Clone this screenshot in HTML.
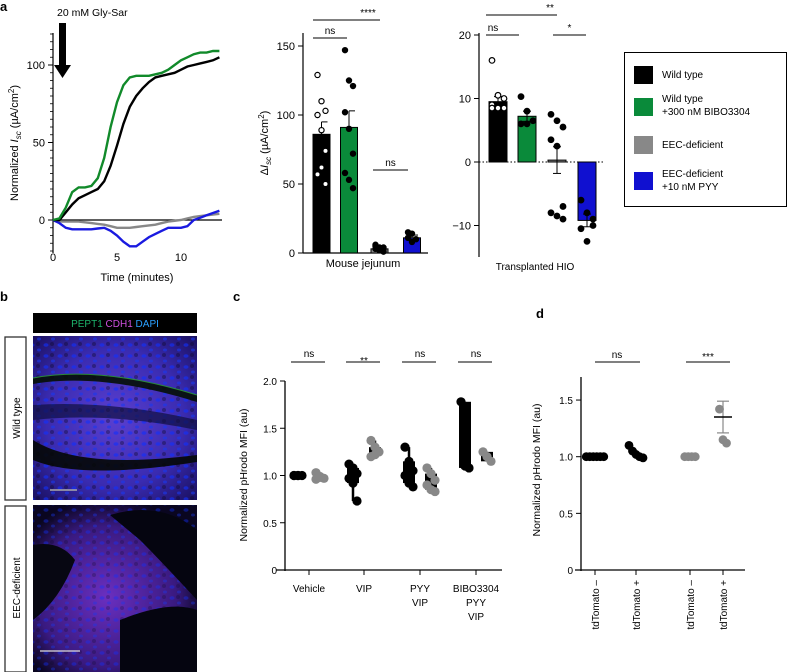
<!DOCTYPE html>
<html><head><meta charset="utf-8"><style>
body{margin:0;background:#fff;}
svg{display:block;font-family:"Liberation Sans",sans-serif;}
</style></head><body>
<svg id="fig" width="787" height="672" viewBox="0 0 787 672">
<defs>
<radialGradient id="wt" cx="50%" cy="50%" r="70%"><stop offset="0" stop-color="#5a3fd0"/><stop offset="0.6" stop-color="#3a2bb0"/><stop offset="1" stop-color="#1a1060"/></radialGradient>
<radialGradient id="ee" cx="45%" cy="55%" r="60%"><stop offset="0" stop-color="#6a2fc0"/><stop offset="0.7" stop-color="#3a1a80"/><stop offset="1" stop-color="#0a0620"/></radialGradient>
<pattern id="nuc" width="14" height="11" patternUnits="userSpaceOnUse"><ellipse cx="4" cy="4" rx="2.5" ry="1.8" fill="#1030ff"/><ellipse cx="11" cy="9" rx="2" ry="1.5" fill="#1838f0"/><circle cx="10" cy="3" r="2" fill="#0a0520" opacity="0.6"/></pattern>
</defs>
<text x="0" y="11" font-size="13" font-weight="bold">a</text>
<text x="57" y="16" font-size="10.5">20 mM Gly-Sar</text>
<polygon points="59,23 66,23 66,65 71,65 62.5,78 54,65 59,65" fill="#000"/>
<text x="0" y="301" font-size="13" font-weight="bold">b</text>
<text x="233" y="301" font-size="13" font-weight="bold">c</text>
<text x="536" y="318" font-size="13" font-weight="bold">d</text>
<!-- panel b -->
<rect x="33" y="313" width="164" height="20" fill="#000"/>
<text x="115" y="327" font-size="10" text-anchor="middle"><tspan fill="#1db36b">PEPT1</tspan><tspan fill="#d050e0"> CDH1</tspan><tspan fill="#2aa0ff"> DAPI</tspan></text>
<rect x="33" y="336" width="164" height="164" fill="url(#wt)"/>
<rect x="33" y="336" width="164" height="164" fill="url(#nuc)" opacity="0.6"/>
<path d="M33,378 Q100,365 197,395 L197,402 Q100,372 33,384Z" fill="#061006" opacity="0.9"/>
<path d="M33,378 Q100,365 197,395" fill="none" stroke="#2a8a3a" stroke-width="1"/>
<path d="M33,440 Q80,470 197,455 L197,462 Q80,480 33,460Z" fill="#040804" opacity="0.9"/>
<path d="M33,405 Q110,400 197,420 L197,430 Q110,412 33,420Z" fill="#101040" opacity="0.7"/>
<line x1="50" y1="490" x2="77" y2="490" stroke="#aaa" stroke-width="1.5"/>
<rect x="33" y="505" width="164" height="167" fill="url(#ee)"/>
<rect x="33" y="505" width="164" height="167" fill="url(#nuc)" opacity="0.4"/>
<path d="M110,515 Q160,500 197,530 L197,600 Q160,560 140,540Z" fill="#050510"/>
<path d="M33,545 Q60,540 75,560 Q60,600 33,620Z" fill="#070712"/>
<path d="M120,620 Q170,600 197,610 L197,672 L120,672Z" fill="#050510"/>
<line x1="40" y1="651" x2="80" y2="651" stroke="#ddd" stroke-width="1.2"/>
<rect x="5" y="337" width="21" height="163" fill="none" stroke="#333" stroke-width="1.3"/>
<text transform="translate(20,418) rotate(-90)" font-size="10" text-anchor="middle">Wild type</text>
<rect x="5" y="506" width="21" height="166" fill="none" stroke="#333" stroke-width="1.3"/>
<text transform="translate(20,588) rotate(-90)" font-size="10" text-anchor="middle">EEC-deficient</text>
<!-- legend -->
<rect x="624.5" y="52.5" width="162" height="154" fill="#fff" stroke="#000"/>
<g><rect x="634" y="66" width="19" height="18" fill="#000"/><text x="662" y="78" font-size="10">Wild type</text></g>
<g><rect x="634" y="98" width="19" height="18" fill="#0a8a3a"/><text x="662" y="102" font-size="10">Wild type</text><text x="662" y="115" font-size="10">+300 nM BIBO3304</text></g>
<g><rect x="634" y="136" width="19" height="18" fill="#888"/><text x="662" y="148" font-size="10">EEC-deficient</text></g>
<g><rect x="634" y="172" width="19" height="18" fill="#1010d0"/><text x="662" y="177" font-size="10">EEC-deficient</text><text x="662" y="190" font-size="10">+10 nM PYY</text></g>
<g id="dyn"></g>
</svg>
<script>
// ---- panel a trace data ----
const traceTimes=[0,0.5,1,1.5,2,2.5,3,3.5,4,4.5,5,5.5,6,6.5,7,7.5,8,8.5,9,9.5,10,10.5,11,11.5,12,12.5,13];
const traceBlack=[0,0,5,10,14,16,18,20,25,35,48,62,73,80,85,89,92,93,94,95,97,99,100,101,102,103,105];
const traceGreen=[0,1,8,18,21,21,22,27,40,60,76,87,92,93,93,93,94,95,97,100,103,105,107,108,108,109,109];
const traceGray=[0,-1,-1,-1,-1,-1.5,-2,-2.5,-3,-4,-5,-5,-5,-4.5,-4,-3.5,-3,-2,-1,-0.5,0,1,2,2.5,3,3.5,4];
const traceBlue=[0,-2,-5,-6,-6,-6,-6,-5.5,-5,-7,-10,-14,-17,-17,-14,-11,-9,-7,-5,-5,-5,-4,0,1.5,3,4.5,6];
const traceXTicks=[0,5,10];
const traceYTicks=[0,50,100];
// ---- jejunum ----
const jejMeans=[86,91,3,11];
const jejErr=[9,12,1,2];
const jejPoints=[[129,110,103,100,89,74,57,62,50],[147,125,121,102,90,72,58,53,47],[5,4,3,3,2,1,6,2,4],[15,14,10,11,8]];
const jejTicks=[0,50,100,150];
// ---- HIO ----
const hioMeans=[9.5,7.2,0.3,-9.2];
const hioErr=[0.8,0.8,2.1,1.0];
const hioPoints=[[16,10.5,10,9,8.5,8.5,8.5],[10.3,8,6.5,6,6],[7.5,6.5,5.5,3.5,2.5,-7,-8,-8.5,-9],[-6,-8,-10,-10.5,-12.5,-9]];
const hioTicks=[-10,0,10,20];
const barColors=["#000","#0a8a3a","#888","#1010d0"];
// ---- panel c ----
const cCategories=[["Vehicle"],["VIP"],["PYY","VIP"],["BIBO3304","PYY","VIP"]];
const cBlack=[[1,1,1,1,1],[1.12,1.08,1.02,0.97,0.92,0.73],[1.3,1.15,1.05,1.0,0.92,0.88],[1.78,1.1,1.08]];
const cGray=[[1.03,0.98,0.97,0.96,0.99],[1.37,1.3,1.25,1.2,1.22],[1.08,1.02,0.95,0.9,0.85,0.83],[1.25,1.2,1.15]];
const cSig=["ns","**","ns","ns"];
const cTicks=[0,0.5,1.0,1.5,2.0];
// ---- panel d ----
const dCategories=["tdTomato \u2013","tdTomato +","tdTomato \u2013","tdTomato +"];
const dPoints=[[1,1,1,1,1,1],[1.1,1.05,1.02,1.0,0.99],[1,1,1,1],[1.42,1.15,1.12]];
const dMean=[1.0,1.02,1.0,1.35];
const dErr=[0,0.02,0,0.14];
const dTicks=[0,0.5,1.0,1.5];

const NS="http://www.w3.org/2000/svg";
const root=document.getElementById('dyn');
function mk(tag,attrs,parent){const e=document.createElementNS(NS,tag);for(const k in attrs)e.setAttribute(k,attrs[k]);(parent||root).appendChild(e);return e;}
function txt(x,y,s,size,anchor,parent){const t=mk('text',{x:x,y:y,'font-size':size,'text-anchor':anchor||'middle'},parent);t.textContent=s;return t;}

// panel a traces
const tx=t=>53+t*12.8, ty=v=>220-v*1.55;
let g=mk('g',{});


mk('line',{x1:53,y1:33,x2:53,y2:253,stroke:'#000','stroke-width':1.2},g);
for(let v=-20;v<=120;v+=5){mk('line',{x1:50,y1:ty(v),x2:53,y2:ty(v),stroke:'#000','stroke-width':0.8},g);}
traceYTicks.forEach(v=>{mk('line',{x1:48,y1:ty(v),x2:53,y2:ty(v),stroke:'#000'},g);txt(45,ty(v)+4,String(v),11,'end',g);});
mk('line',{x1:53,y1:220,x2:222,y2:220,stroke:'#000','stroke-width':1.2},g);
traceXTicks.forEach(v=>{txt(tx(v),261,String(v),11,'middle',g);});
txt(137,281,'Time (minutes)',11,'middle',g);
const yt=mk('text',{transform:'translate(18,143) rotate(-90)','font-size':11,'text-anchor':'middle'},g);
yt.innerHTML='Normalized <tspan font-style="italic">I</tspan><tspan font-size="8" dy="3" font-style="italic">sc</tspan><tspan dy="-3"> (\u00b5A/cm</tspan><tspan font-size="8" dy="-4">2</tspan><tspan dy="4">)</tspan>';
[[traceGray,'#888','trace-eec-deficient'],[traceBlue,'#1a1ae0','trace-eec-pyy'],[traceBlack,'#000','trace-wild-type'],[traceGreen,'#118a2a','trace-bibo']].forEach(([arr,c,n])=>{
  const p=mk('path',{d:arr.map((v,i)=>(i?'L':'M')+tx(traceTimes[i]).toFixed(1)+','+ty(v).toFixed(1)).join(''),fill:'none',stroke:c,'stroke-width':2.4});
  
  
});

function sig(x1,x2,y,label,lx){mk('line',{x1:x1,y1:y,x2:x2,y2:y,stroke:'#000','stroke-width':1});txt(lx==null?(x1+x2)/2:lx,y-4,label,10,'middle');}

// jejunum
const jy=v=>253-v*1.38, jx=[321.5,349,379.5,412];
g=mk('g',{});


mk('line',{x1:303,y1:33,x2:303,y2:253,stroke:'#000','stroke-width':1.2},g);
mk('line',{x1:303,y1:253,x2:428,y2:253,stroke:'#000','stroke-width':1.2},g);
jejTicks.forEach(v=>{mk('line',{x1:298,y1:jy(v),x2:303,y2:jy(v),stroke:'#000'},g);txt(295,jy(v)+4,String(v),11,'end',g);});
txt(363,267,'Mouse jejunum',11,'middle',g);
const jt=mk('text',{transform:'translate(268,143) rotate(-90)','font-size':11,'text-anchor':'middle'},g);
jt.innerHTML='\u0394<tspan font-style="italic">I</tspan><tspan font-size="8" dy="3" font-style="italic">sc</tspan><tspan dy="-3"> (\u00b5A/cm</tspan><tspan font-size="8" dy="-4">2</tspan><tspan dy="4">)</tspan>';
jejMeans.forEach((m,i)=>{
  const b=mk('rect',{x:jx[i]-8.5,y:jy(m),width:17,height:253-jy(m),fill:barColors[i],stroke:'#000','stroke-width':1});
  
  
  mk('line',{x1:jx[i],y1:jy(m),x2:jx[i],y2:jy(m+jejErr[i]),stroke:'#000'});
  mk('line',{x1:jx[i],y1:jy(m+jejErr[i]),x2:jx[i]+6,y2:jy(m+jejErr[i]),stroke:'#000'});
  jejPoints[i].forEach((v,k)=>{const off=((k%3)-1)*4;
    const c=mk('circle',{cx:jx[i]+off,cy:jy(v),r:2.6,fill:i==0?'#fff':'#000',stroke:'#000','stroke-width':1.2});
    
    });
});
sig(313,380,20,'****',368);sig(313,347,38,'ns');sig(373,408,170,'ns');

// HIO
const hy=v=>162-v*6.35, hx=[498,527,557,587];
g=mk('g',{});


mk('line',{x1:479,y1:33,x2:479,y2:257,stroke:'#000','stroke-width':1.2},g);
hioTicks.forEach(v=>{mk('line',{x1:474,y1:hy(v),x2:479,y2:hy(v),stroke:'#000'},g);txt(471,hy(v)+4,v<0?'\u2212'+(-v):String(v),11,'end',g);});
txt(535,270,'Transplanted HIO',10,'middle',g);
hioMeans.forEach((m,i)=>{
  const y0=Math.min(hy(m),hy(0)),h=Math.abs(hy(m)-hy(0));
  const b=mk('rect',{x:hx[i]-9,y:y0,width:18,height:h,fill:barColors[i],stroke:'#000','stroke-width':1});
  
  
  const e1=hy(m+hioErr[i]),e2=hy(m-hioErr[i]);
  mk('line',{x1:hx[i],y1:e1,x2:hx[i],y2:e2,stroke:'#000'});
  mk('line',{x1:hx[i]-4,y1:e1,x2:hx[i]+4,y2:e1,stroke:'#000'});
  mk('line',{x1:hx[i]-4,y1:e2,x2:hx[i]+4,y2:e2,stroke:'#000'});
  hioPoints[i].forEach((v,k)=>{const off=((k%3)-1)*6;
    const c=mk('circle',{cx:hx[i]+off,cy:hy(v),r:2.8,fill:i==0?'#fff':'#000',stroke:'#000','stroke-width':1.2});
    
    });
});
mk('line',{x1:479,y1:hy(0),x2:603,y2:hy(0),stroke:'#000','stroke-dasharray':'1.5,2','stroke-width':1});
sig(486,557,15,'**',550);sig(486,519,35,'ns',493);sig(553,586,35,'*');

// panel c
const cy=v=>570-v*94.5, cxc=[309,364,420,476];
g=mk('g',{});


mk('line',{x1:285,y1:381,x2:285,y2:571,stroke:'#000','stroke-width':1.3},g);
mk('line',{x1:276,y1:570,x2:502,y2:570,stroke:'#000','stroke-width':1.3},g);
cTicks.forEach(v=>{mk('line',{x1:280,y1:cy(v),x2:285,y2:cy(v),stroke:'#000'},g);txt(277,cy(v)+4,v===0?'0':v.toFixed(1),10,'end',g);});
const ct=mk('text',{transform:'translate(247,475) rotate(-90)','font-size':10.5,'text-anchor':'middle'},g);ct.textContent='Normalized pHrodo MFI (au)';
cCategories.forEach((lines,i)=>{mk('line',{x1:cxc[i],y1:570,x2:cxc[i],y2:575,stroke:'#000'},g);lines.forEach((s,j)=>txt(cxc[i],592+j*14,s,10,'middle',g));});
function rangeBox(x,arr,col){const mn=Math.min(...arr),mx=Math.max(...arr);const s=[...arr].sort((a,b)=>a-b);
  const q1=s[Math.floor((s.length-1)*0.25)],q3=s[Math.ceil((s.length-1)*0.75)];
  mk('line',{x1:x,y1:cy(mn),x2:x,y2:cy(mx),stroke:'#000','stroke-width':2.5});
  mk('rect',{x:x-6,y:cy(q3),width:12,height:Math.max(1,cy(q1)-cy(q3)),fill:'#000'});
  arr.forEach((v,k)=>{const c=mk('circle',{cx:x+((k%3)-1)*4,cy:cy(v),r:4.6,fill:col});
    
    });}
cxc.forEach((x,i)=>{rangeBox(x-11,cBlack[i],'#000');rangeBox(x+11,cGray[i],'#888');
  mk('line',{x1:x-18,y1:362,x2:x+16,y2:362,stroke:'#000','stroke-width':1});txt(x,i==1?364:357,cSig[i],10,'middle');});

// panel d
const dy=v=>570-v*113.3, dxc=[595,636,690,723];
g=mk('g',{});


mk('line',{x1:581,y1:377,x2:581,y2:571,stroke:'#000','stroke-width':1.3},g);
mk('line',{x1:575,y1:570,x2:745,y2:570,stroke:'#000','stroke-width':1.3},g);
dTicks.forEach(v=>{mk('line',{x1:576,y1:dy(v),x2:581,y2:dy(v),stroke:'#000'},g);txt(573,dy(v)+4,v===0?'0':v.toFixed(1),10,'end',g);});
const dt=mk('text',{transform:'translate(540,470) rotate(-90)','font-size':10.5,'text-anchor':'middle'},g);dt.textContent='Normalized pHrodo MFI (au)';
dCategories.forEach((s,i)=>{mk('line',{x1:dxc[i],y1:570,x2:dxc[i],y2:575,stroke:'#000'},g);
  const t=mk('text',{transform:`translate(${dxc[i]+4},580) rotate(-90)`,'font-size':10,'text-anchor':'end'},g);t.textContent=s;});
dPoints.forEach((arr,i)=>{const col=i<2?'#000':'#888';
  arr.forEach((v,k)=>{const c=mk('circle',{cx:dxc[i]+((k%arr.length)-(arr.length-1)/2)*3.5,cy:dy(v),r:4.4,fill:col});
    
    });
  if(dErr[i]>0.05){mk('line',{x1:dxc[i],y1:dy(dMean[i]+dErr[i]),x2:dxc[i],y2:dy(dMean[i]-dErr[i]),stroke:'#888','stroke-width':1.2});
    mk('line',{x1:dxc[i]-6,y1:dy(dMean[i]+dErr[i]),x2:dxc[i]+6,y2:dy(dMean[i]+dErr[i]),stroke:'#888','stroke-width':1.2});
    mk('line',{x1:dxc[i]-6,y1:dy(dMean[i]-dErr[i]),x2:dxc[i]+6,y2:dy(dMean[i]-dErr[i]),stroke:'#888','stroke-width':1.2});
    mk('line',{x1:dxc[i]-9,y1:dy(dMean[i]),x2:dxc[i]+9,y2:dy(dMean[i]),stroke:'#000','stroke-width':1.5});}
});
mk('line',{x1:595,y1:362,x2:640,y2:362,stroke:'#000'});txt(617,358,'ns',10);
mk('line',{x1:686,y1:362,x2:730,y2:362,stroke:'#000'});txt(708,360,'***',10);
</script>
</body></html>
